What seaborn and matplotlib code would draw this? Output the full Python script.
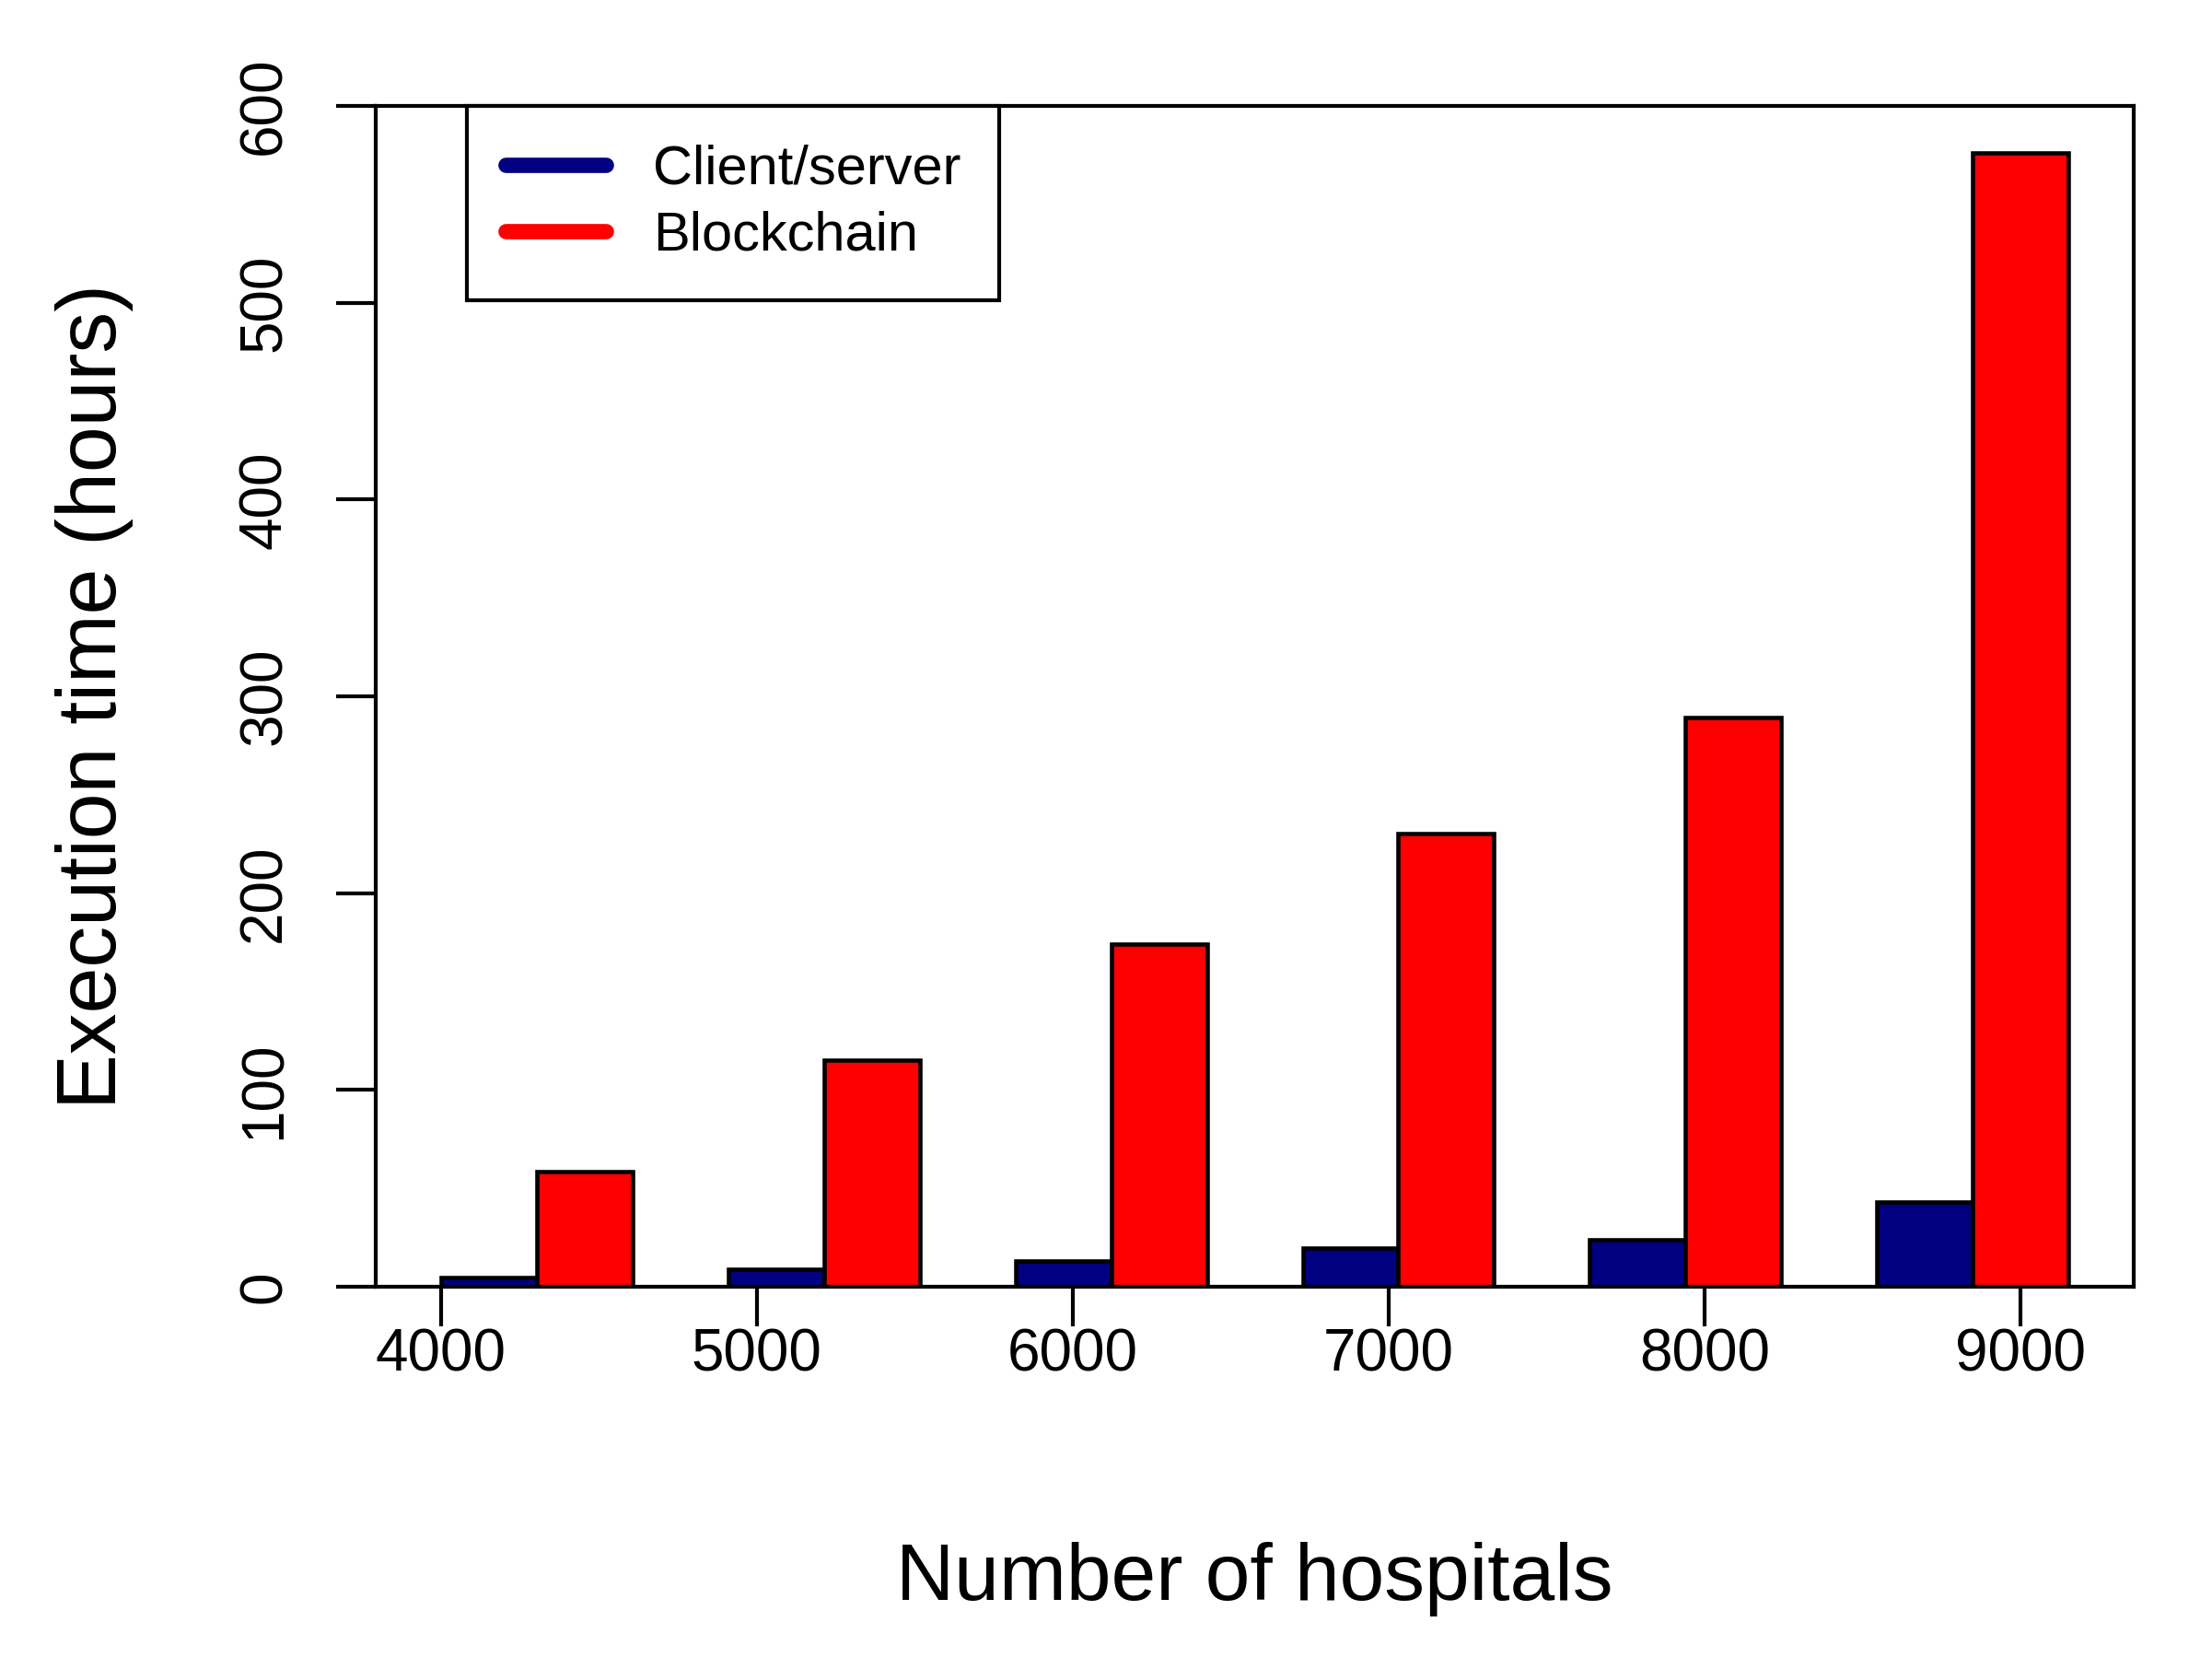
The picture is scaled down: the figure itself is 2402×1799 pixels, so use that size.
import numpy as np
import pandas as pd
import matplotlib
matplotlib.use("Agg")
import matplotlib.pyplot as plt
from matplotlib.lines import Line2D
import seaborn as sns

# values
hospitals = ["4000", "5000", "6000", "7000", "8000", "9000"]
client_server = [4.5, 8.9, 13.3, 19.4, 23.7, 43.2]
blockchain = [58.4, 115.2, 174.0, 230.2, 289.2, 576.1]
systems = ["Client/server", "Blockchain"]
colors = ["#000080", "#FF0000"]

df = pd.DataFrame({
    "hospitals": hospitals * 2,
    "hours": client_server + blockchain,
    "system": [systems[0]] * len(hospitals) + [systems[1]] * len(hospitals),
})

sns.set_style("ticks")
plt.rcParams["font.family"] = ["Liberation Sans", "DejaVu Sans"]
plt.rcParams["text.color"] = "black"
plt.rcParams["axes.labelcolor"] = "black"

fig = plt.figure(figsize=(2402 / 300, 1799 / 300), dpi=300)
ax = fig.add_axes([0.1699, 0.2235, 0.7947, 0.7126])

sns.barplot(data=df, x="hospitals", y="hours", hue="system",
            order=hospitals, hue_order=systems, palette=colors,
            width=2 / 3, saturation=1, edgecolor="black", linewidth=1.1,
            legend=False, ax=ax)

# R-style axis: ticks at seq(1, 17.5, length=6) in barplot units (group spacing 3)
tick_pos = (np.linspace(1, 17.5, 6) - 2) / 3
ax.set_xticks(tick_pos, labels=hospitals)
ax.set_xlim(-0.56, 5.56)
ax.set_ylim(0, 600)
ax.set_yticks(range(0, 601, 100))

for s in ax.spines.values():
    s.set_visible(True)
    s.set_linewidth(1.0)
    s.set_color("black")

ax.tick_params(axis="both", direction="out", length=10.3, width=1.0,
               labelsize=15.3, colors="black")
ax.tick_params(axis="x", pad=0.5)
ax.tick_params(axis="y", pad=11.4, labelrotation=90)
for lab in ax.get_yticklabels():
    lab.set_va("center")
    lab.set_ha("right")

ax.set_xlabel("Number of hospitals", fontsize=21)
ax.set_ylabel("Execution time (hours)", fontsize=21.5)
ax.xaxis.set_label_coords(0.5, -0.248)
ax.xaxis.label.set_va("center")
ax.yaxis.set_label_coords(-0.16, 0.5)
ax.yaxis.label.set_va("center")
ax.yaxis.label.set_ha("center")

handles = [Line2D([], [], color=c, lw=4, solid_capstyle="round") for c in colors]
leg = ax.legend(handles, systems, loc="upper left", bbox_to_anchor=(0.0519, 1.0),
                fontsize=14.3, frameon=True, fancybox=False, borderaxespad=0,
                handlelength=1.83, handletextpad=0.86, borderpad=0.7,
                labelspacing=0.29)
leg.get_frame().set_edgecolor("black")
leg.get_frame().set_linewidth(1.0)
leg.get_frame().set_alpha(1)

fig.savefig("out.png", dpi=300)
